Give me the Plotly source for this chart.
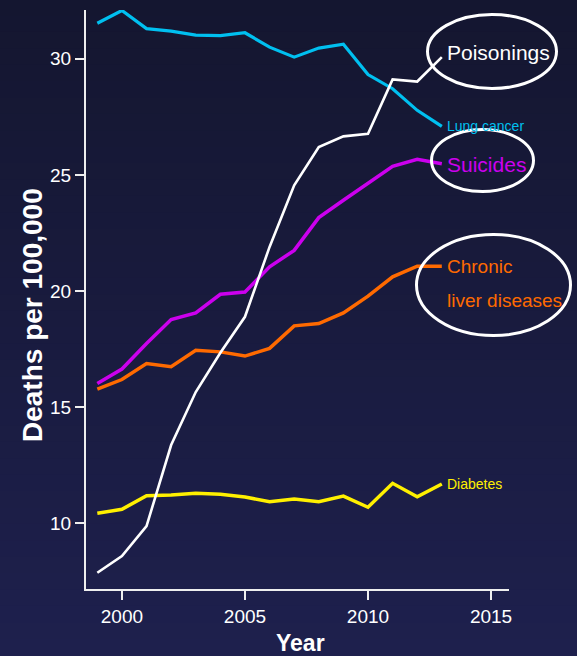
import plotly.graph_objects as go

years = list(range(1999, 2014))
lung_cancer = [31.53, 32.08, 31.30, 31.19, 31.02, 31.00, 31.12, 30.50, 30.07, 30.46, 30.63, 29.32, 28.71, 27.78, 27.09]
poisonings = [7.87, 8.59, 9.88, 13.37, 15.65, 17.34, 18.89, 21.90, 24.55, 26.20, 26.66, 26.77, 29.11, 29.02, 30.07]
suicides = [16.02, 16.64, 17.74, 18.77, 19.06, 19.86, 19.96, 21.04, 21.75, 23.16, 23.91, 24.62, 25.37, 25.67, 25.48]
liver_diseases = [15.78, 16.19, 16.88, 16.74, 17.45, 17.38, 17.20, 17.53, 18.50, 18.60, 19.06, 19.78, 20.61, 21.07, 21.07]
diabetes = [10.43, 10.60, 11.19, 11.22, 11.29, 11.25, 11.13, 10.93, 11.05, 10.93, 11.17, 10.69, 11.72, 11.14, 11.69]

x_ticks = [2000, 2005, 2010, 2015]
y_ticks = [10, 15, 20, 25, 30]

SANS = "Liberation Sans, Arial, Helvetica, sans-serif"

series = [
    ("Lung cancer", lung_cancer, "#00C0F0", 3.2),
    ("Suicides", suicides, "#CC00EE", 3.5),
    ("Chronic liver diseases", liver_diseases, "#FF6A00", 3.5),
    ("Diabetes", diabetes, "#FFF000", 3.5),
    ("Poisonings", poisonings, "#FFFFFF", 2.6),
]

fig = go.Figure()
for name, vals, color, w in series:
    fig.add_trace(go.Scatter(x=years, y=vals, mode="lines", name=name,
                             line=dict(color=color, width=w), showlegend=False,
                             hoverinfo="skip"))

W, H = 577, 656
L, R, T, B = 86, 68, 10, 67
pw, ph = W - L - R, H - T - B
def px2paper_x(px):
    return (px - L) / pw
def py2paper_y(py):
    return (H - B - py) / ph

shapes = []
n = 40
top = (20, 22, 48)
bot = (30, 32, 77)
for i in range(n):
    f = i / (n - 1)
    c = tuple(round(top[k] + (bot[k] - top[k]) * f) for k in range(3))
    shapes.append(dict(type="rect", xref="paper", yref="paper", layer="below",
                       x0=px2paper_x(-5), x1=px2paper_x(W + 5),
                       y0=py2paper_y(H * (i + 1) / n + 1), y1=py2paper_y(H * i / n - 1),
                       fillcolor="rgb(%d,%d,%d)" % c, line=dict(width=0)))

# ellipses around labels
for (x0, x1, y0, y1) in [(426, 558, 13, 90), (430, 535, 128, 193), (415, 572, 233, 337)]:
    shapes.append(dict(type="circle", xref="paper", yref="paper",
                       x0=px2paper_x(x0 + 1.5), x1=px2paper_x(x1 - 1.5),
                       y0=py2paper_y(y1 - 1.5), y1=py2paper_y(y0 + 1.5),
                       line=dict(color="white", width=3)))

annotations = []
def lab(text, yval, color, size, yshift=0):
    annotations.append(dict(x=years[-1], y=yval, xref="x", yref="y", text=text,
                            xanchor="left", yanchor="middle", xshift=3, yshift=yshift,
                            showarrow=False, font=dict(family=SANS, size=size, color=color)))

lab("Poisonings", poisonings[-1], "white", 21, yshift=5)
lab("Lung cancer", lung_cancer[-1], "#00C0F0", 14)
lab("Suicides", suicides[-1], "#CC00EE", 21, yshift=-1)
lab("Chronic", liver_diseases[-1], "#FF6A00", 19)
lab("liver diseases", liver_diseases[-1], "#FF6A00", 19, yshift=-34)
lab("Diabetes", diabetes[-1], "#FFF000", 14)

annotations.append(dict(x=px2paper_x(300), y=py2paper_y(643), xref="paper", yref="paper",
                        text="<b>Year</b>", showarrow=False, xanchor="center", yanchor="middle",
                        font=dict(family=SANS, size=23, color="white")))
annotations.append(dict(x=px2paper_x(32), y=py2paper_y(315), xref="paper", yref="paper",
                        text="<b>Deaths per 100,000</b>", showarrow=False, textangle=-90,
                        xanchor="center", yanchor="middle",
                        font=dict(family=SANS, size=28, color="white")))

axis_common = dict(showgrid=False, zeroline=False, showline=True, linecolor="#EEEEEE",
                   linewidth=2, ticks="outside", ticklen=9, tickwidth=2, tickcolor="#EEEEEE",
                   tickfont=dict(family=SANS, size=19, color="white"))

fig.update_layout(
    width=W, height=H,
    margin=dict(l=L, r=R, t=T, b=B),
    paper_bgcolor="rgb(25,27,62)",
    plot_bgcolor="rgba(0,0,0,0)",
    xaxis=dict(range=[1998.54, 2015.73], tickvals=x_ticks, **axis_common),
    yaxis=dict(range=[7.17, 32.1], tickvals=y_ticks, **axis_common),
    shapes=shapes,
    annotations=annotations,
)

fig.write_html("out.html")
